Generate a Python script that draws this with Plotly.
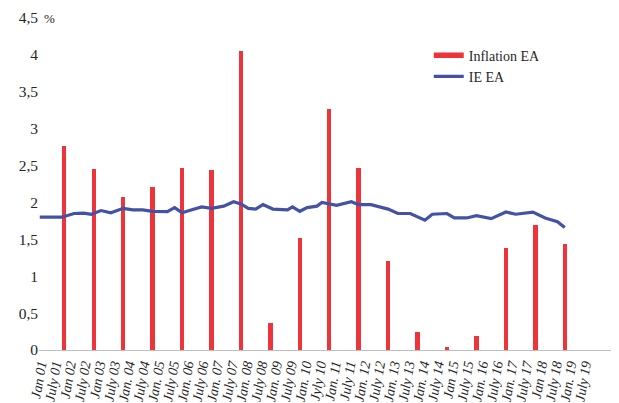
import plotly.graph_objects as go

# x values: months counted from Jan 2001 (0 = Jan 01)
bar_months = [10 + 12 * k for k in range(18)]
inflation_ea = [2.77, 2.45, 2.08, 2.21, 2.47, 2.44, 4.05, 0.37, 1.52, 3.27,
                2.47, 1.21, 0.24, 0.04, 0.19, 1.38, 1.70, 1.44]

ie_months = [0, 9, 14, 18, 21, 25, 29, 34, 38, 42, 46, 52, 55, 58, 62, 66, 70, 75,
             79, 82, 85, 88, 91, 95, 101, 103, 106, 109, 113, 115, 121, 127, 130,
             135, 142, 146, 151, 157, 160, 166, 169, 174, 178, 184, 190, 194, 201,
             206, 211, 214]
ie_ea = [1.80, 1.80, 1.85, 1.855, 1.84, 1.89, 1.86, 1.92, 1.90, 1.90, 1.88, 1.875,
         1.93, 1.86, 1.90, 1.94, 1.92, 1.95, 2.01, 1.98, 1.92, 1.91, 1.97, 1.91,
         1.90, 1.94, 1.88, 1.93, 1.95, 2.00, 1.96, 2.01, 1.97, 1.97, 1.91, 1.85,
         1.85, 1.76, 1.84, 1.85, 1.79, 1.79, 1.82, 1.78, 1.87, 1.84, 1.87, 1.79,
         1.74, 1.66]

tick_labels = ["Jan 01", "July 01", "Jan 02", "July 02", "Jan 03", "July 03",
               "Jan. 04", "July 04", "Jan. 05", "July 05", "Jan. 06", "July 06",
               "Jan. 07", "July 07", "Jan. 08", "July 08", "Jan. 09", "July 09",
               "Jan. 10", "Jyly 10", "Jan. 11", "July 11", "Jan. 12", "July 12",
               "Jan. 13", "July 13", "Jan. 14", "July 14", "Jan 15", "July 15",
               "Jan. 16", "July 16", "Jan. 17", "July 17", "Jan 18", "July 18",
               "Jan. 19", "July 19"]
tick_months = [6 * i for i in range(len(tick_labels))]

y_ticks = [0, 0.5, 1, 1.5, 2, 2.5, 3, 3.5, 4, 4.5]
y_tick_labels = ["0", "0,5", "1", "1,5", "2", "2,5", "3", "3,5", "4", "4,5"]

RED = "#EE343B"
BLUE = "#4452A5"
SERIF = "Liberation Serif, Times New Roman, DejaVu Serif, serif"
TXT = "#262626"

fig = go.Figure()
fig.add_trace(go.Bar(x=bar_months, y=inflation_ea, width=1.8, marker_color=RED,
                     marker_line_width=0, showlegend=False, name="Inflation EA"))
fig.add_trace(go.Scatter(x=ie_months, y=ie_ea, mode="lines",
                         line=dict(color=BLUE, width=3.2), showlegend=False, name="IE EA"))
# legend entries
fig.add_trace(go.Scatter(x=[None], y=[None], mode="lines", name="Inflation EA",
                         line=dict(color=RED, width=5.5)))
fig.add_trace(go.Scatter(x=[None], y=[None], mode="lines", name="IE EA",
                         line=dict(color=BLUE, width=3.2)))

# the page body adds an 8 px offset, so the figure is 8 px smaller
fig.update_layout(
    width=611, height=395,
    margin=dict(l=31, r=0, t=10, b=53),
    plot_bgcolor="white", paper_bgcolor="white",
    bargap=0,
    font=dict(family=SERIF, color=TXT),
    legend=dict(x=0.672, y=0.935, xanchor="left", yanchor="top",
                font=dict(family=SERIF, size=14, color=TXT),
                bgcolor="rgba(0,0,0,0)", itemwidth=30, tracegroupgap=2),
    xaxis=dict(range=[-0.3, 236.1], tickmode="array", tickvals=tick_months,
               ticktext=tick_labels, tickangle=-80, showgrid=False, zeroline=False,
               showline=True, linecolor="#BFBFBF", linewidth=1, ticks="",
               tickfont=dict(family=SERIF, size=14, style="italic", color=TXT)),
    yaxis=dict(range=[0, 4.5], tickmode="array", tickvals=y_ticks, ticktext=y_tick_labels,
               showgrid=False, zeroline=False, showline=False, ticks="",
               tickfont=dict(family=SERIF, size=15.5, color=TXT)),
)
fig.add_annotation(x=0.005, y=4.5, xref="paper", yref="y", text="%", showarrow=False,
                   xanchor="left", yanchor="middle",
                   font=dict(family=SERIF, size=13, color=TXT))

fig.write_html("out.html")
